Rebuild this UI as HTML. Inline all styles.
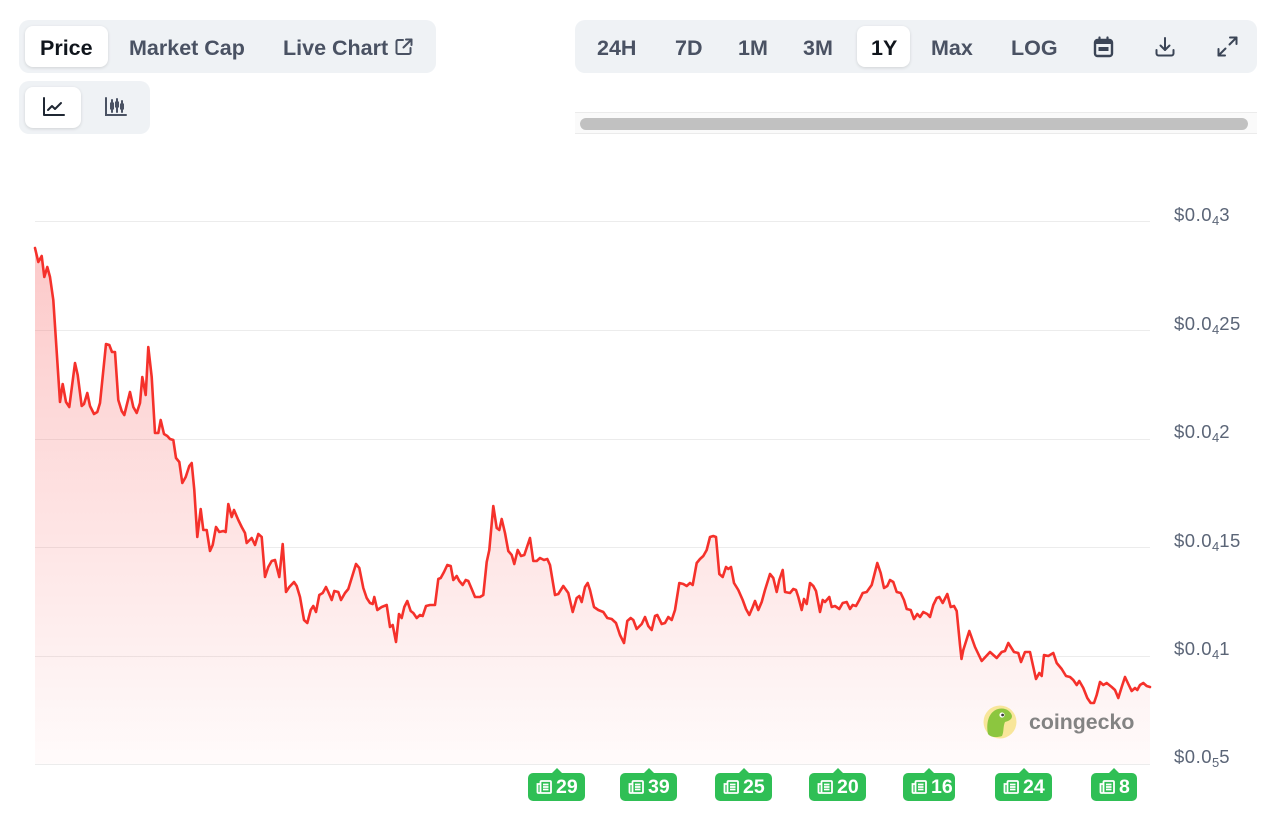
<!DOCTYPE html>
<html><head><meta charset="utf-8">
<style>
*{margin:0;padding:0;box-sizing:border-box}
body{width:1280px;height:823px;overflow:hidden;background:#fff;position:relative;font-family:"Liberation Sans",Arial,sans-serif}
.abs{position:absolute}
.grp{position:absolute;background:#eff2f5;border-radius:10px}
.pill{position:absolute;background:#fff;border-radius:8px;box-shadow:0 1px 3px rgba(0,0,0,.13)}
.t{position:absolute;top:28px;height:41px;line-height:41px;font-size:21.5px;font-weight:bold;color:#4a5263;white-space:nowrap}
.ylab{position:absolute;left:1174px;font-size:18.5px;color:#5b6577;letter-spacing:0.5px;white-space:nowrap}
.ylab span{font-size:13px;position:relative;top:4px;letter-spacing:0}
.badge{position:absolute;top:773px;height:28px;background:#2fbf55;border-radius:5px;color:#fff;font-weight:bold;font-size:19.5px;line-height:29px;white-space:nowrap}
.badge:before{content:"";position:absolute;left:50%;top:-5px;margin-left:-6px;border-left:6px solid transparent;border-right:6px solid transparent;border-bottom:6px solid #2fbf55}
.badge svg{position:absolute;left:8px;top:7px}
.badge b{position:absolute;left:28px;top:0}
</style></head><body>

<!-- left group -->
<div class="grp" style="left:19px;top:20px;width:417px;height:53px"></div>
<div class="pill" style="left:25px;top:26px;width:83px;height:41px"></div>
<div class="t" style="left:40px;color:#10151c">Price</div>
<div class="t" style="left:129px">Market Cap</div>
<div class="t" style="left:283px">Live Chart</div>
<svg class="abs" style="left:394px;top:37px" width="20" height="20" viewBox="0 0 20 20" fill="none" stroke="#4a5263" stroke-width="2" stroke-linecap="round" stroke-linejoin="round">
<path d="M9 3H4a1.5 1.5 0 0 0-1.5 1.5v11A1.5 1.5 0 0 0 4 17h11a1.5 1.5 0 0 0 1.5-1.5V11"/><path d="M12 2.5h5.5V8"/><path d="M17.5 2.5 9.5 10.5"/></svg>

<div class="grp" style="left:19px;top:81px;width:131px;height:53px"></div>
<div class="pill" style="left:25px;top:87px;width:56px;height:41px"></div>
<svg class="abs" style="left:42px;top:96px" width="24" height="22" viewBox="0 0 24 22" fill="none" stroke="#1f2733" stroke-width="2" stroke-linecap="round" stroke-linejoin="round">
<path d="M2 2v17h20"/><path d="M6 14l4-4 3 3 6-6"/></svg>
<svg class="abs" style="left:104px;top:96px" width="24" height="22" viewBox="0 0 24 22" fill="none" stroke="#4a5263" stroke-width="2" stroke-linecap="round">
<path d="M2 2v17h20"/><path d="M8 4v12M13 3v13M18 5v11"/>
<rect x="6.5" y="7" width="3" height="6" fill="#4a5263" stroke-width="1"/><rect x="11.5" y="6" width="3" height="5" fill="#4a5263" stroke-width="1"/><rect x="16.5" y="8" width="3" height="5" fill="#4a5263" stroke-width="1"/></svg>

<!-- right group -->
<div class="grp" style="left:575px;top:20px;width:682px;height:53px"></div>
<div class="pill" style="left:857px;top:26px;width:53px;height:41px"></div>
<div class="t" style="left:597px">24H</div>
<div class="t" style="left:675px">7D</div>
<div class="t" style="left:738px">1M</div>
<div class="t" style="left:803px">3M</div>
<div class="t" style="left:871px;color:#10151c">1Y</div>
<div class="t" style="left:931px">Max</div>
<div class="t" style="left:1011px">LOG</div>
<svg class="abs" style="left:1093px;top:36px" width="21" height="22" viewBox="0 0 21 22">
<rect x="2" y="4" width="17" height="16" rx="2.5" fill="none" stroke="#3b4556" stroke-width="2.4"/>
<rect x="2" y="4" width="17" height="4" fill="#3b4556"/>
<rect x="5.5" y="11" width="10" height="4" fill="#3b4556"/>
<path d="M6.5 1.5v4M14.5 1.5v4" stroke="#3b4556" stroke-width="2.2" stroke-linecap="round"/></svg>
<svg class="abs" style="left:1154px;top:36px" width="22" height="22" viewBox="0 0 22 22" fill="none" stroke="#3b4556" stroke-width="2" stroke-linecap="round" stroke-linejoin="round">
<path d="M11 2v12"/><path d="M6.5 9.5 11 14l4.5-4.5"/><path d="M2.5 14v3.5a2 2 0 0 0 2 2h13a2 2 0 0 0 2-2V14"/></svg>
<svg class="abs" style="left:1216px;top:35px" width="23" height="23" viewBox="0 0 23 23" fill="none" stroke="#3b4556" stroke-width="2" stroke-linecap="round" stroke-linejoin="round">
<path d="M14 2.5h6.5V9"/><path d="M20.5 2.5 13.5 9.5"/><path d="M9 20.5H2.5V14"/><path d="M2.5 20.5 9.5 13.5"/></svg>

<!-- scrollbar -->
<div class="abs" style="left:575px;top:112px;width:682px;height:22px;background:#fafafa;border-top:1px solid #ebebeb;border-bottom:1px solid #ebebeb"></div>
<div class="abs" style="left:580px;top:118px;width:668px;height:12px;background:#c1c1c1;border-radius:6px"></div>

<!-- chart -->
<svg class="abs" style="left:0;top:0" width="1280" height="823" viewBox="0 0 1280 823">
<defs>
<linearGradient id="g" x1="0" y1="248" x2="0" y2="764" gradientUnits="userSpaceOnUse">
<stop offset="0" stop-color="#f87171" stop-opacity="0.38"/>
<stop offset="1" stop-color="#f87171" stop-opacity="0.03"/>
</linearGradient>
</defs>
<g stroke="#ececec" stroke-width="1">
<line x1="35" y1="221.5" x2="1150" y2="221.5"/>
<line x1="35" y1="330.5" x2="1150" y2="330.5"/>
<line x1="35" y1="439.5" x2="1150" y2="439.5"/>
<line x1="35" y1="547.5" x2="1150" y2="547.5"/>
<line x1="35" y1="656.5" x2="1150" y2="656.5"/>
<line x1="35" y1="764.5" x2="1150" y2="764.5"/>
</g>
<path id="area" fill="url(#g)" d="M35,248 L38.3,262 41.7,256 44.3,277 47.3,267 50,277 53.3,300 60,402 62.7,384 66,402 69.3,407 75,363 77.7,375 81.7,406 84,404 87.3,393 90,406 94,414 97.3,412 100,403 106,344 109.3,345 112,352 115,352 118.3,400 121.7,411 124.3,415 130,392 133.3,407 136.7,413 140,403 142.3,377 145.7,395 148.3,347 151.7,377 155,433 158.3,433 160.7,420 164,434 167.3,436 170,439 173.3,440 176,458 179.3,462 182.3,483 185.7,477 189.3,466 191.7,463 194.3,490 197.3,537 200.7,509 203.3,530 206.7,530 210,551 212.7,545 216,527 219.3,532 223.3,531 225.7,532 228.3,504 231.7,517 234,510 238.3,520 241.7,527 245,533 246.7,543 251.7,538 255,545 258.3,534 261.7,537 265,577 268.3,567 271.7,561 275,560 279.3,577 282.7,544 286,592 289.3,587 294,582 296.7,586 300,597 304,620 307.3,623 310.7,610 313.3,606 316,612 319.3,595 322.7,593 326,587 328.3,592 331.7,600 334.3,591 338.3,592 341,600 345,593 348.3,589 356,564 359.3,568 363.3,588 366.7,598 370,603 372.7,604 374.3,597 377.3,610 381.7,607 386.7,605 390,627 392.7,625 396,642 399,614 401.7,618 404.3,607 407.3,601 410.7,611 413.3,613 416.7,618 420,615 422.7,616 426,606 430,605 435,605 438.3,579 440.7,578 444,572 447.3,565 450.7,566 453.3,580 456.7,576 459.3,581 462.7,585 465.7,580 468.3,581 471.7,589 475,597 480,597 483.3,595 486.7,562 489.3,550 493.3,506 496.7,528 499.3,530 501.7,519 505,533 508.3,551 511.7,555 514.3,564 517.7,550 521,556 524.3,555 530,538 533.3,561 536.7,561 540,558 544,560 547.3,559 550,565 555,595 558.3,594 563.3,586 568.3,593 572.7,612 576.7,598 579.3,596 581.7,602 585,587 587.7,583 590,590 594,607 598.3,610 603.3,612 607.3,618 611.7,619 616,623 620,635 624,643 627.3,621 630.7,618 633.3,620 636.7,629 641.7,624 645,617 648.3,626 651.7,630 655,616 657.3,615 661.7,624 665,623 668.3,617 671.7,620 675,610 679.3,583 683.3,584 686.7,586 690,583 692.7,585 696.7,563 700,559 703.3,556 706.7,550 710,537 713.3,536 716,537 719.3,574 722.7,577 726,567 728.3,569 731,567 734,583 738.3,590 742.7,600 746,609 749.3,615 752.7,607 755,601 758.3,610 761.7,602 765,590 770,574 773.3,578 776.7,592 779.3,580 782.7,570 785,592 790,593 793.3,589 796,590 798.3,597 801.7,610 804,599 806.7,604 810,583 813.3,586 816,591 820,612 822.7,600 825,602 829.3,597 831.7,607 835,606 839.3,609 842.7,603 846.7,602 850,609 852.7,605 856,606 859.3,600 862.7,593 866.7,592 871.7,585 877.3,563 880.7,573 884,588 887.3,586 890,580 893.3,582 896.7,592 900.7,593 904,600 906.7,609 910.7,610 914,619 917.3,614 920,617 923.3,612 927.3,614 930,617 933.3,605 936.7,598 939.3,597 942.7,603 947.3,594 950.7,607 954,606 956.7,611 960,645 961.5,659 963.3,650 969.3,631 975,647 981.7,661 990,652 996.7,658 1001.7,652 1005,651 1008.3,643 1014,652 1018.3,653 1021,662 1025,652 1030,652 1033.3,667 1036,679 1039.3,673 1041.7,676 1044,655 1048.3,656 1053.3,653 1056.7,663 1061.7,669 1066,676 1070,677 1073.3,680 1076.7,685 1079.3,681 1083.3,688 1087.3,698 1090.7,703 1094,703 1096.7,695 1100,682 1103.3,685 1106.7,683 1111.7,687 1115,690 1118.3,698 1121.7,687 1125,677 1128.3,684 1131.7,691 1135,688 1137.3,690 1140,685 1143.3,683 1146.7,686 1150,687 L1150,764 L35,764 Z"/>
<path fill="none" stroke="#f5312b" stroke-width="2.6" stroke-linejoin="round" stroke-linecap="round" d="M35,248 L38.3,262 41.7,256 44.3,277 47.3,267 50,277 53.3,300 60,402 62.7,384 66,402 69.3,407 75,363 77.7,375 81.7,406 84,404 87.3,393 90,406 94,414 97.3,412 100,403 106,344 109.3,345 112,352 115,352 118.3,400 121.7,411 124.3,415 130,392 133.3,407 136.7,413 140,403 142.3,377 145.7,395 148.3,347 151.7,377 155,433 158.3,433 160.7,420 164,434 167.3,436 170,439 173.3,440 176,458 179.3,462 182.3,483 185.7,477 189.3,466 191.7,463 194.3,490 197.3,537 200.7,509 203.3,530 206.7,530 210,551 212.7,545 216,527 219.3,532 223.3,531 225.7,532 228.3,504 231.7,517 234,510 238.3,520 241.7,527 245,533 246.7,543 251.7,538 255,545 258.3,534 261.7,537 265,577 268.3,567 271.7,561 275,560 279.3,577 282.7,544 286,592 289.3,587 294,582 296.7,586 300,597 304,620 307.3,623 310.7,610 313.3,606 316,612 319.3,595 322.7,593 326,587 328.3,592 331.7,600 334.3,591 338.3,592 341,600 345,593 348.3,589 356,564 359.3,568 363.3,588 366.7,598 370,603 372.7,604 374.3,597 377.3,610 381.7,607 386.7,605 390,627 392.7,625 396,642 399,614 401.7,618 404.3,607 407.3,601 410.7,611 413.3,613 416.7,618 420,615 422.7,616 426,606 430,605 435,605 438.3,579 440.7,578 444,572 447.3,565 450.7,566 453.3,580 456.7,576 459.3,581 462.7,585 465.7,580 468.3,581 471.7,589 475,597 480,597 483.3,595 486.7,562 489.3,550 493.3,506 496.7,528 499.3,530 501.7,519 505,533 508.3,551 511.7,555 514.3,564 517.7,550 521,556 524.3,555 530,538 533.3,561 536.7,561 540,558 544,560 547.3,559 550,565 555,595 558.3,594 563.3,586 568.3,593 572.7,612 576.7,598 579.3,596 581.7,602 585,587 587.7,583 590,590 594,607 598.3,610 603.3,612 607.3,618 611.7,619 616,623 620,635 624,643 627.3,621 630.7,618 633.3,620 636.7,629 641.7,624 645,617 648.3,626 651.7,630 655,616 657.3,615 661.7,624 665,623 668.3,617 671.7,620 675,610 679.3,583 683.3,584 686.7,586 690,583 692.7,585 696.7,563 700,559 703.3,556 706.7,550 710,537 713.3,536 716,537 719.3,574 722.7,577 726,567 728.3,569 731,567 734,583 738.3,590 742.7,600 746,609 749.3,615 752.7,607 755,601 758.3,610 761.7,602 765,590 770,574 773.3,578 776.7,592 779.3,580 782.7,570 785,592 790,593 793.3,589 796,590 798.3,597 801.7,610 804,599 806.7,604 810,583 813.3,586 816,591 820,612 822.7,600 825,602 829.3,597 831.7,607 835,606 839.3,609 842.7,603 846.7,602 850,609 852.7,605 856,606 859.3,600 862.7,593 866.7,592 871.7,585 877.3,563 880.7,573 884,588 887.3,586 890,580 893.3,582 896.7,592 900.7,593 904,600 906.7,609 910.7,610 914,619 917.3,614 920,617 923.3,612 927.3,614 930,617 933.3,605 936.7,598 939.3,597 942.7,603 947.3,594 950.7,607 954,606 956.7,611 960,645 961.5,659 963.3,650 969.3,631 975,647 981.7,661 990,652 996.7,658 1001.7,652 1005,651 1008.3,643 1014,652 1018.3,653 1021,662 1025,652 1030,652 1033.3,667 1036,679 1039.3,673 1041.7,676 1044,655 1048.3,656 1053.3,653 1056.7,663 1061.7,669 1066,676 1070,677 1073.3,680 1076.7,685 1079.3,681 1083.3,688 1087.3,698 1090.7,703 1094,703 1096.7,695 1100,682 1103.3,685 1106.7,683 1111.7,687 1115,690 1118.3,698 1121.7,687 1125,677 1128.3,684 1131.7,691 1135,688 1137.3,690 1140,685 1143.3,683 1146.7,686 1150,687"/>
<!-- coingecko logo -->
<circle cx="1000" cy="722" r="16.5" fill="#f8e69a"/>
<path d="M988,734 C986,724 988,712 998,709 C1005,707 1011,711 1012,716 C1012,720 1008,721 1005,722 C1003,726 1004,732 1002,736 C996,738 990,737 988,734 Z" fill="#8cc63f"/>
<circle cx="1002" cy="715" r="2.6" fill="#fff"/>
<circle cx="1002.6" cy="715" r="1.4" fill="#3b3b3b"/>
<text x="1029" y="729" font-family="Liberation Sans, Arial, sans-serif" font-weight="bold" font-size="21.3" fill="#838383">coingecko</text>
</svg>

<!-- y labels -->
<div class="ylab" style="top:204px">$0.0<span>4</span>3</div>
<div class="ylab" style="top:313px">$0.0<span>4</span>25</div>
<div class="ylab" style="top:421px">$0.0<span>4</span>2</div>
<div class="ylab" style="top:530px">$0.0<span>4</span>15</div>
<div class="ylab" style="top:638px">$0.0<span>4</span>1</div>
<div class="ylab" style="top:746px">$0.0<span>5</span>5</div>

<!-- news badges -->
<div class="badge" style="left:528px;width:57px"><svg width="16" height="14" viewBox="0 0 16 14" fill="none" stroke="#fff" stroke-width="1.8"><rect x="4.5" y="1" width="10.5" height="12" rx="1"/><path d="M4.5 4H1.5v8a1 1 0 0 0 1 1h2"/><path d="M7 4.5h5.5M7 7h5.5M7 9.5h5.5"/></svg><b>29</b></div>
<div class="badge" style="left:620px;width:57px"><svg width="16" height="14" viewBox="0 0 16 14" fill="none" stroke="#fff" stroke-width="1.8"><rect x="4.5" y="1" width="10.5" height="12" rx="1"/><path d="M4.5 4H1.5v8a1 1 0 0 0 1 1h2"/><path d="M7 4.5h5.5M7 7h5.5M7 9.5h5.5"/></svg><b>39</b></div>
<div class="badge" style="left:715px;width:57px"><svg width="16" height="14" viewBox="0 0 16 14" fill="none" stroke="#fff" stroke-width="1.8"><rect x="4.5" y="1" width="10.5" height="12" rx="1"/><path d="M4.5 4H1.5v8a1 1 0 0 0 1 1h2"/><path d="M7 4.5h5.5M7 7h5.5M7 9.5h5.5"/></svg><b>25</b></div>
<div class="badge" style="left:809px;width:57px"><svg width="16" height="14" viewBox="0 0 16 14" fill="none" stroke="#fff" stroke-width="1.8"><rect x="4.5" y="1" width="10.5" height="12" rx="1"/><path d="M4.5 4H1.5v8a1 1 0 0 0 1 1h2"/><path d="M7 4.5h5.5M7 7h5.5M7 9.5h5.5"/></svg><b>20</b></div>
<div class="badge" style="left:903px;width:52px"><svg width="16" height="14" viewBox="0 0 16 14" fill="none" stroke="#fff" stroke-width="1.8"><rect x="4.5" y="1" width="10.5" height="12" rx="1"/><path d="M4.5 4H1.5v8a1 1 0 0 0 1 1h2"/><path d="M7 4.5h5.5M7 7h5.5M7 9.5h5.5"/></svg><b>16</b></div>
<div class="badge" style="left:995px;width:57px"><svg width="16" height="14" viewBox="0 0 16 14" fill="none" stroke="#fff" stroke-width="1.8"><rect x="4.5" y="1" width="10.5" height="12" rx="1"/><path d="M4.5 4H1.5v8a1 1 0 0 0 1 1h2"/><path d="M7 4.5h5.5M7 7h5.5M7 9.5h5.5"/></svg><b>24</b></div>
<div class="badge" style="left:1091px;width:46px"><svg width="16" height="14" viewBox="0 0 16 14" fill="none" stroke="#fff" stroke-width="1.8"><rect x="4.5" y="1" width="10.5" height="12" rx="1"/><path d="M4.5 4H1.5v8a1 1 0 0 0 1 1h2"/><path d="M7 4.5h5.5M7 7h5.5M7 9.5h5.5"/></svg><b>8</b></div>

</body></html>
